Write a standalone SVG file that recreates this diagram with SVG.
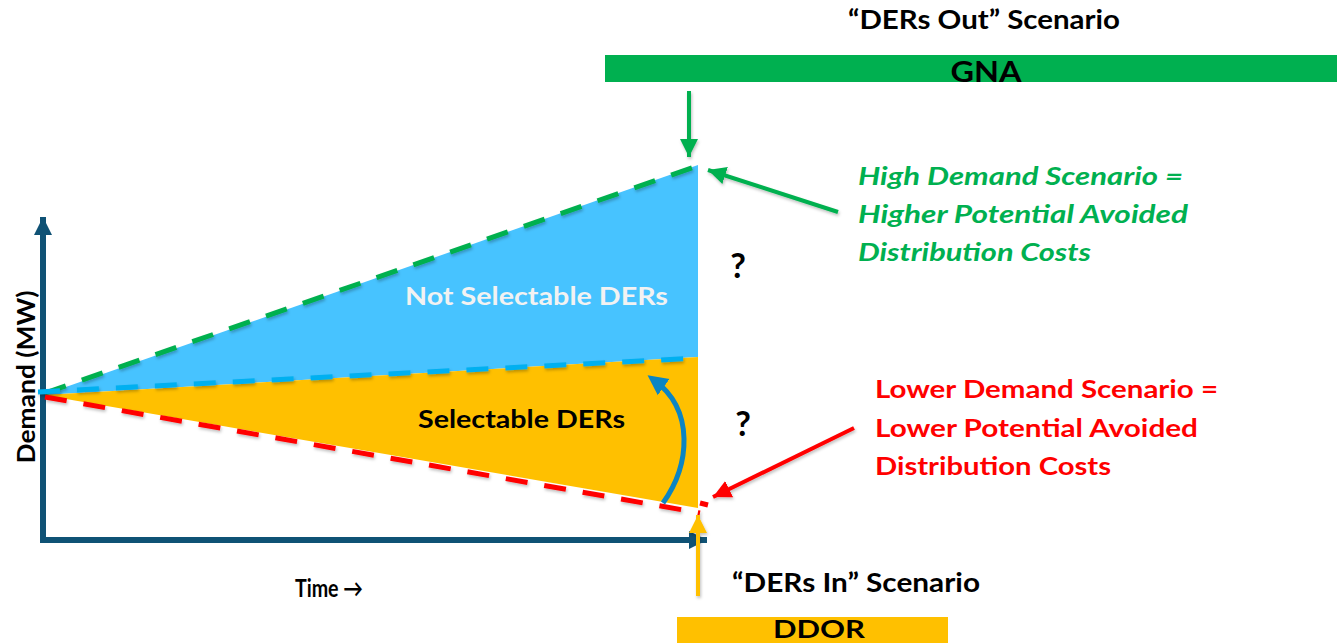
<svg xmlns="http://www.w3.org/2000/svg" width="1337" height="643" viewBox="0 0 1337 643">
<style>
text{font-family:Lato,"Liberation Sans",sans-serif;font-weight:bold;}
.blk{fill:#000;}
.grn{fill:#00B050;font-style:italic;font-size:25px;}
.red{fill:#FF0000;font-size:25px;}
.dash{fill:none;stroke-width:5;stroke-dasharray:22 17;}
</style>
<defs>
<filter id="sh" filterUnits="userSpaceOnUse" x="0" y="0" width="1337" height="643">
<feDropShadow dx="1" dy="2" stdDeviation="1.5" flood-color="#000" flood-opacity="0.25"/>
</filter>
<marker id="mGreen" markerUnits="userSpaceOnUse" markerWidth="20" markerHeight="20" viewBox="0 0 20 20" refX="18" refY="10" orient="auto"><path d="M0,1 L18,10 L0,19 Z" fill="#00B050"/></marker>
<marker id="mRed" markerUnits="userSpaceOnUse" markerWidth="20" markerHeight="20" viewBox="0 0 20 20" refX="18" refY="10" orient="auto"><path d="M0,1 L18,10 L0,19 Z" fill="#FF0000"/></marker>
<marker id="mYel" markerUnits="userSpaceOnUse" markerWidth="20" markerHeight="20" viewBox="0 0 20 20" refX="18" refY="10" orient="auto"><path d="M0,1 L18,10 L0,19 Z" fill="#FFC000"/></marker>
<marker id="mAxis" markerUnits="userSpaceOnUse" markerWidth="20" markerHeight="20" viewBox="0 0 20 20" refX="18" refY="10" orient="auto"><path d="M0,1 L18,10 L0,19 Z" fill="#0F5275"/></marker>
<marker id="mCurve" markerUnits="userSpaceOnUse" markerWidth="22" markerHeight="22" viewBox="0 0 22 22" refX="12" refY="11" orient="auto"><path d="M0,1 L20,11 L0,21 Z" fill="#0B85C3"/></marker>
</defs>

<g id="areas">
<polygon points="43,395 698,165 698,357" fill="#47C3FF"/>
<polygon points="43,395 698,357 698,508" fill="#FFC000"/>
</g>

<g id="axes">
<line x1="43" y1="543" x2="43" y2="217" stroke="#0F5275" stroke-width="6" marker-end="url(#mAxis)"/>
<line x1="40" y1="540" x2="707" y2="540" stroke="#0F5275" stroke-width="6" marker-end="url(#mAxis)"/>
</g>

<g id="connectors">
<line class="dash" x1="45" y1="393" x2="706" y2="163" stroke="#00B050" filter="url(#sh)"/>
<line class="dash" x1="38" y1="392" x2="698" y2="358" stroke="#00B0F0" filter="url(#sh)"/>
<path class="dash" d="M45,397 L700,513" stroke="#FF0000" filter="url(#sh)"/>
<line x1="700" y1="503" x2="708" y2="505" stroke="#FF0000" stroke-width="5"/>
<path d="M663,503 C690,465 695,410 654,380" fill="none" stroke="#0B85C3" stroke-width="5" marker-end="url(#mCurve)"/>
<line x1="689" y1="91" x2="689" y2="157" stroke="#00B050" stroke-width="4" marker-end="url(#mGreen)" filter="url(#sh)"/>
<line x1="838" y1="212" x2="708" y2="170" stroke="#00B050" stroke-width="4" marker-end="url(#mGreen)" filter="url(#sh)"/>
<line x1="854" y1="428" x2="713" y2="497" stroke="#FF0000" stroke-width="4" marker-end="url(#mRed)" filter="url(#sh)"/>
<line x1="698" y1="596" x2="698" y2="515" stroke="#FFC000" stroke-width="4" marker-end="url(#mYel)" filter="url(#sh)"/>
</g>

<g id="gna">
<rect x="605" y="55" width="732" height="27" fill="#00B050"/>
<text x="986" y="82" font-size="29" text-anchor="middle" class="blk" textLength="71" lengthAdjust="spacingAndGlyphs">GNA</text>
</g>
<g id="ders-out">
<text x="848" y="29" font-size="26" class="blk" textLength="272" lengthAdjust="spacingAndGlyphs">“DERs Out” Scenario</text>
</g>
<g id="ddor">
<rect x="677" y="617" width="271" height="26" fill="#FFC000"/>
<text x="819" y="638" font-size="25" text-anchor="middle" class="blk" textLength="92" lengthAdjust="spacingAndGlyphs">DDOR</text>
</g>
<g id="ders-in">
<text x="732" y="592" font-size="26" class="blk" textLength="248" lengthAdjust="spacingAndGlyphs">“DERs In” Scenario</text>
</g>

<g id="high-demand">
<text class="grn" x="858" y="185" textLength="325" lengthAdjust="spacingAndGlyphs">High Demand Scenario =</text>
<text class="grn" x="858" y="223" textLength="330" lengthAdjust="spacingAndGlyphs">Higher Potential Avoided</text>
<text class="grn" x="858" y="261" textLength="233" lengthAdjust="spacingAndGlyphs">Distribution Costs</text>
</g>
<g id="low-demand">
<text class="red" x="875" y="398" textLength="343" lengthAdjust="spacingAndGlyphs">Lower Demand Scenario =</text>
<text class="red" x="875" y="437" textLength="323" lengthAdjust="spacingAndGlyphs">Lower Potential Avoided</text>
<text class="red" x="875" y="475" textLength="236" lengthAdjust="spacingAndGlyphs">Distribution Costs</text>
</g>

<g id="not-selectable">
<text x="405" y="305" font-size="25" fill="#F2F2F2" textLength="263" lengthAdjust="spacingAndGlyphs">Not Selectable DERs</text>
</g>
<g id="selectable">
<text x="418" y="428" font-size="25" class="blk" textLength="207" lengthAdjust="spacingAndGlyphs">Selectable DERs</text>
</g>
<g id="q1"><text x="738" y="278" font-size="34" text-anchor="middle" class="blk">?</text></g>
<g id="q2"><text x="743" y="436" font-size="34" text-anchor="middle" class="blk">?</text></g>

<g id="y-label">
<text transform="translate(35,377) rotate(-90)" font-size="24" text-anchor="middle" class="blk" textLength="173" lengthAdjust="spacingAndGlyphs">Demand (MW)</text>
</g>
<g id="x-label">
<text x="295" y="597" font-size="24" class="blk" textLength="68" lengthAdjust="spacingAndGlyphs">Time →</text>
</g>
</svg>
